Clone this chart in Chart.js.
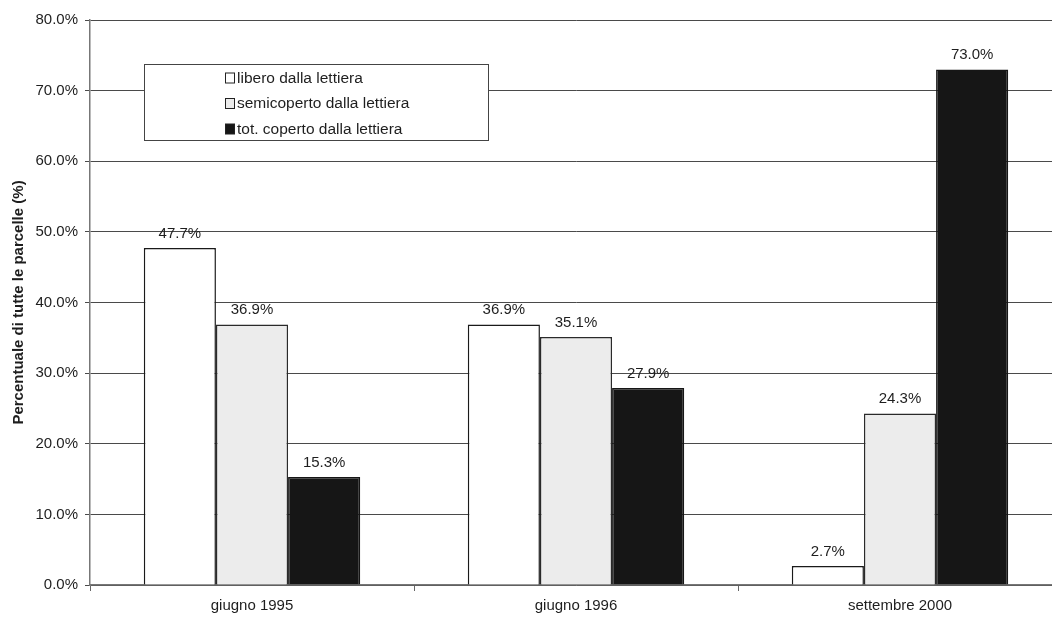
<!DOCTYPE html>
<html>
<head>
<meta charset="utf-8">
<script src="https://cdn.jsdelivr.net/npm/chart.js@4.4.1/dist/chart.umd.min.js"></script>
<style>
  html, body { margin: 0; padding: 0; background: #fff; overflow: hidden; }
  #wrap { width: 1062px; height: 617px; }
</style>
</head>
<body>
<div id="wrap"><canvas id="c" width="1062" height="617"></canvas></div>
<script>
// Survey dates
const categories = ['giugno 1995', 'giugno 1996', 'settembre 2000'];

// Share of plots (%) in each litter-cover class
const libero = [47.7, 36.9, 2.7];
const semicoperto = [36.9, 35.1, 24.3];
const coperto = [15.3, 27.9, 73.0];

const seriesNames = ['libero dalla lettiera', 'semicoperto dalla lettiera', 'tot. coperto dalla lettiera'];
const yTicks = [0, 10, 20, 30, 40, 50, 60, 70, 80];

const FONT = 'Liberation Sans, Arial, sans-serif';
const TEXT = '#1e1e1e';

// Value labels above each bar
const valueLabels = {
  id: 'valueLabels',
  afterDatasetsDraw(chart) {
    const ctx = chart.ctx;
    ctx.save();
    ctx.font = '15px ' + FONT;
    ctx.fillStyle = TEXT;
    ctx.textAlign = 'center';
    ctx.textBaseline = 'bottom';
    chart.data.datasets.forEach((ds, i) => {
      chart.getDatasetMeta(i).data.forEach((bar, j) => {
        ctx.fillText(ds.data[j].toFixed(1) + '%', bar.x, bar.y - 7);
      });
    });
    ctx.restore();
  }
};

// Boxed legend inside the plot area
const boxLegend = {
  id: 'boxLegend',
  afterDatasetsDraw(chart) {
    const ctx = chart.ctx;
    const x0 = 144, y0 = 64, w = 344, h = 76;
    ctx.save();
    ctx.fillStyle = '#fff';
    ctx.fillRect(x0, y0, w, h);
    ctx.strokeStyle = '#444';
    ctx.lineWidth = 1;
    ctx.strokeRect(x0 + 0.5, y0 + 0.5, w, h);
    ctx.font = '15.5px ' + FONT;
    ctx.textBaseline = 'middle';
    ctx.textAlign = 'left';
    chart.data.datasets.forEach((ds, i) => {
      const cy = 78.5 + i * 25.5;
      ctx.fillStyle = ds.backgroundColor;
      ctx.fillRect(225.5, cy - 5.5, 9, 10);
      ctx.strokeStyle = '#222';
      ctx.strokeRect(225.5, cy - 5.5, 9, 10);
      ctx.fillStyle = TEXT;
      ctx.fillText(ds.label, 237, cy);
    });
    ctx.restore();
  }
};

new Chart(document.getElementById('c'), {
  type: 'bar',
  data: {
    labels: categories,
    datasets: [
      { label: seriesNames[0], data: libero, backgroundColor: '#ffffff', borderColor: '#1a1a1a', borderWidth: 1.5 },
      { label: seriesNames[1], data: semicoperto, backgroundColor: '#ececec', borderColor: '#2a2a2a', borderWidth: 1.5 },
      { label: seriesNames[2], data: coperto, backgroundColor: '#161616', borderColor: '#161616', borderWidth: 1.5 }
    ]
  },
  options: {
    responsive: false,
    animation: false,
    layout: { padding: { top: 20, right: 0, bottom: 0, left: 0 } },
    plugins: {
      legend: { display: false },
      tooltip: { enabled: false }
    },
    datasets: {
      bar: { categoryPercentage: 0.668, barPercentage: 1.0 }
    },
    scales: {
      x: {
        offset: true,
        grid: { display: true, drawOnChartArea: false, color: '#666', tickLength: 6, offset: true },
        border: { color: '#777', width: 1.5 },
        ticks: { color: TEXT, font: { family: FONT, size: 15 }, padding: 6 },
        afterFit(scale) { scale.height = 32; }
      },
      y: {
        min: 0,
        max: 80,
        afterBuildTicks(scale) { scale.ticks = yTicks.map(v => ({ value: v })); },
        grid: { color: '#4a4a4a', lineWidth: 1, tickLength: 5 },
        border: { color: '#777', width: 1.5 },
        ticks: {
          color: TEXT,
          font: { family: FONT, size: 15 },
          padding: 7,
          callback: v => v.toFixed(1) + '%'
        },
        title: {
          display: true,
          text: 'Percentuale di tutte le parcelle (%)',
          color: TEXT,
          font: { family: FONT, size: 15, weight: 'bold' },
          padding: { top: 10, bottom: 4 }
        },
        afterFit(scale) { scale.width = 90; }
      }
    }
  },
  plugins: [valueLabels, boxLegend]
});
</script>
</body>
</html>
